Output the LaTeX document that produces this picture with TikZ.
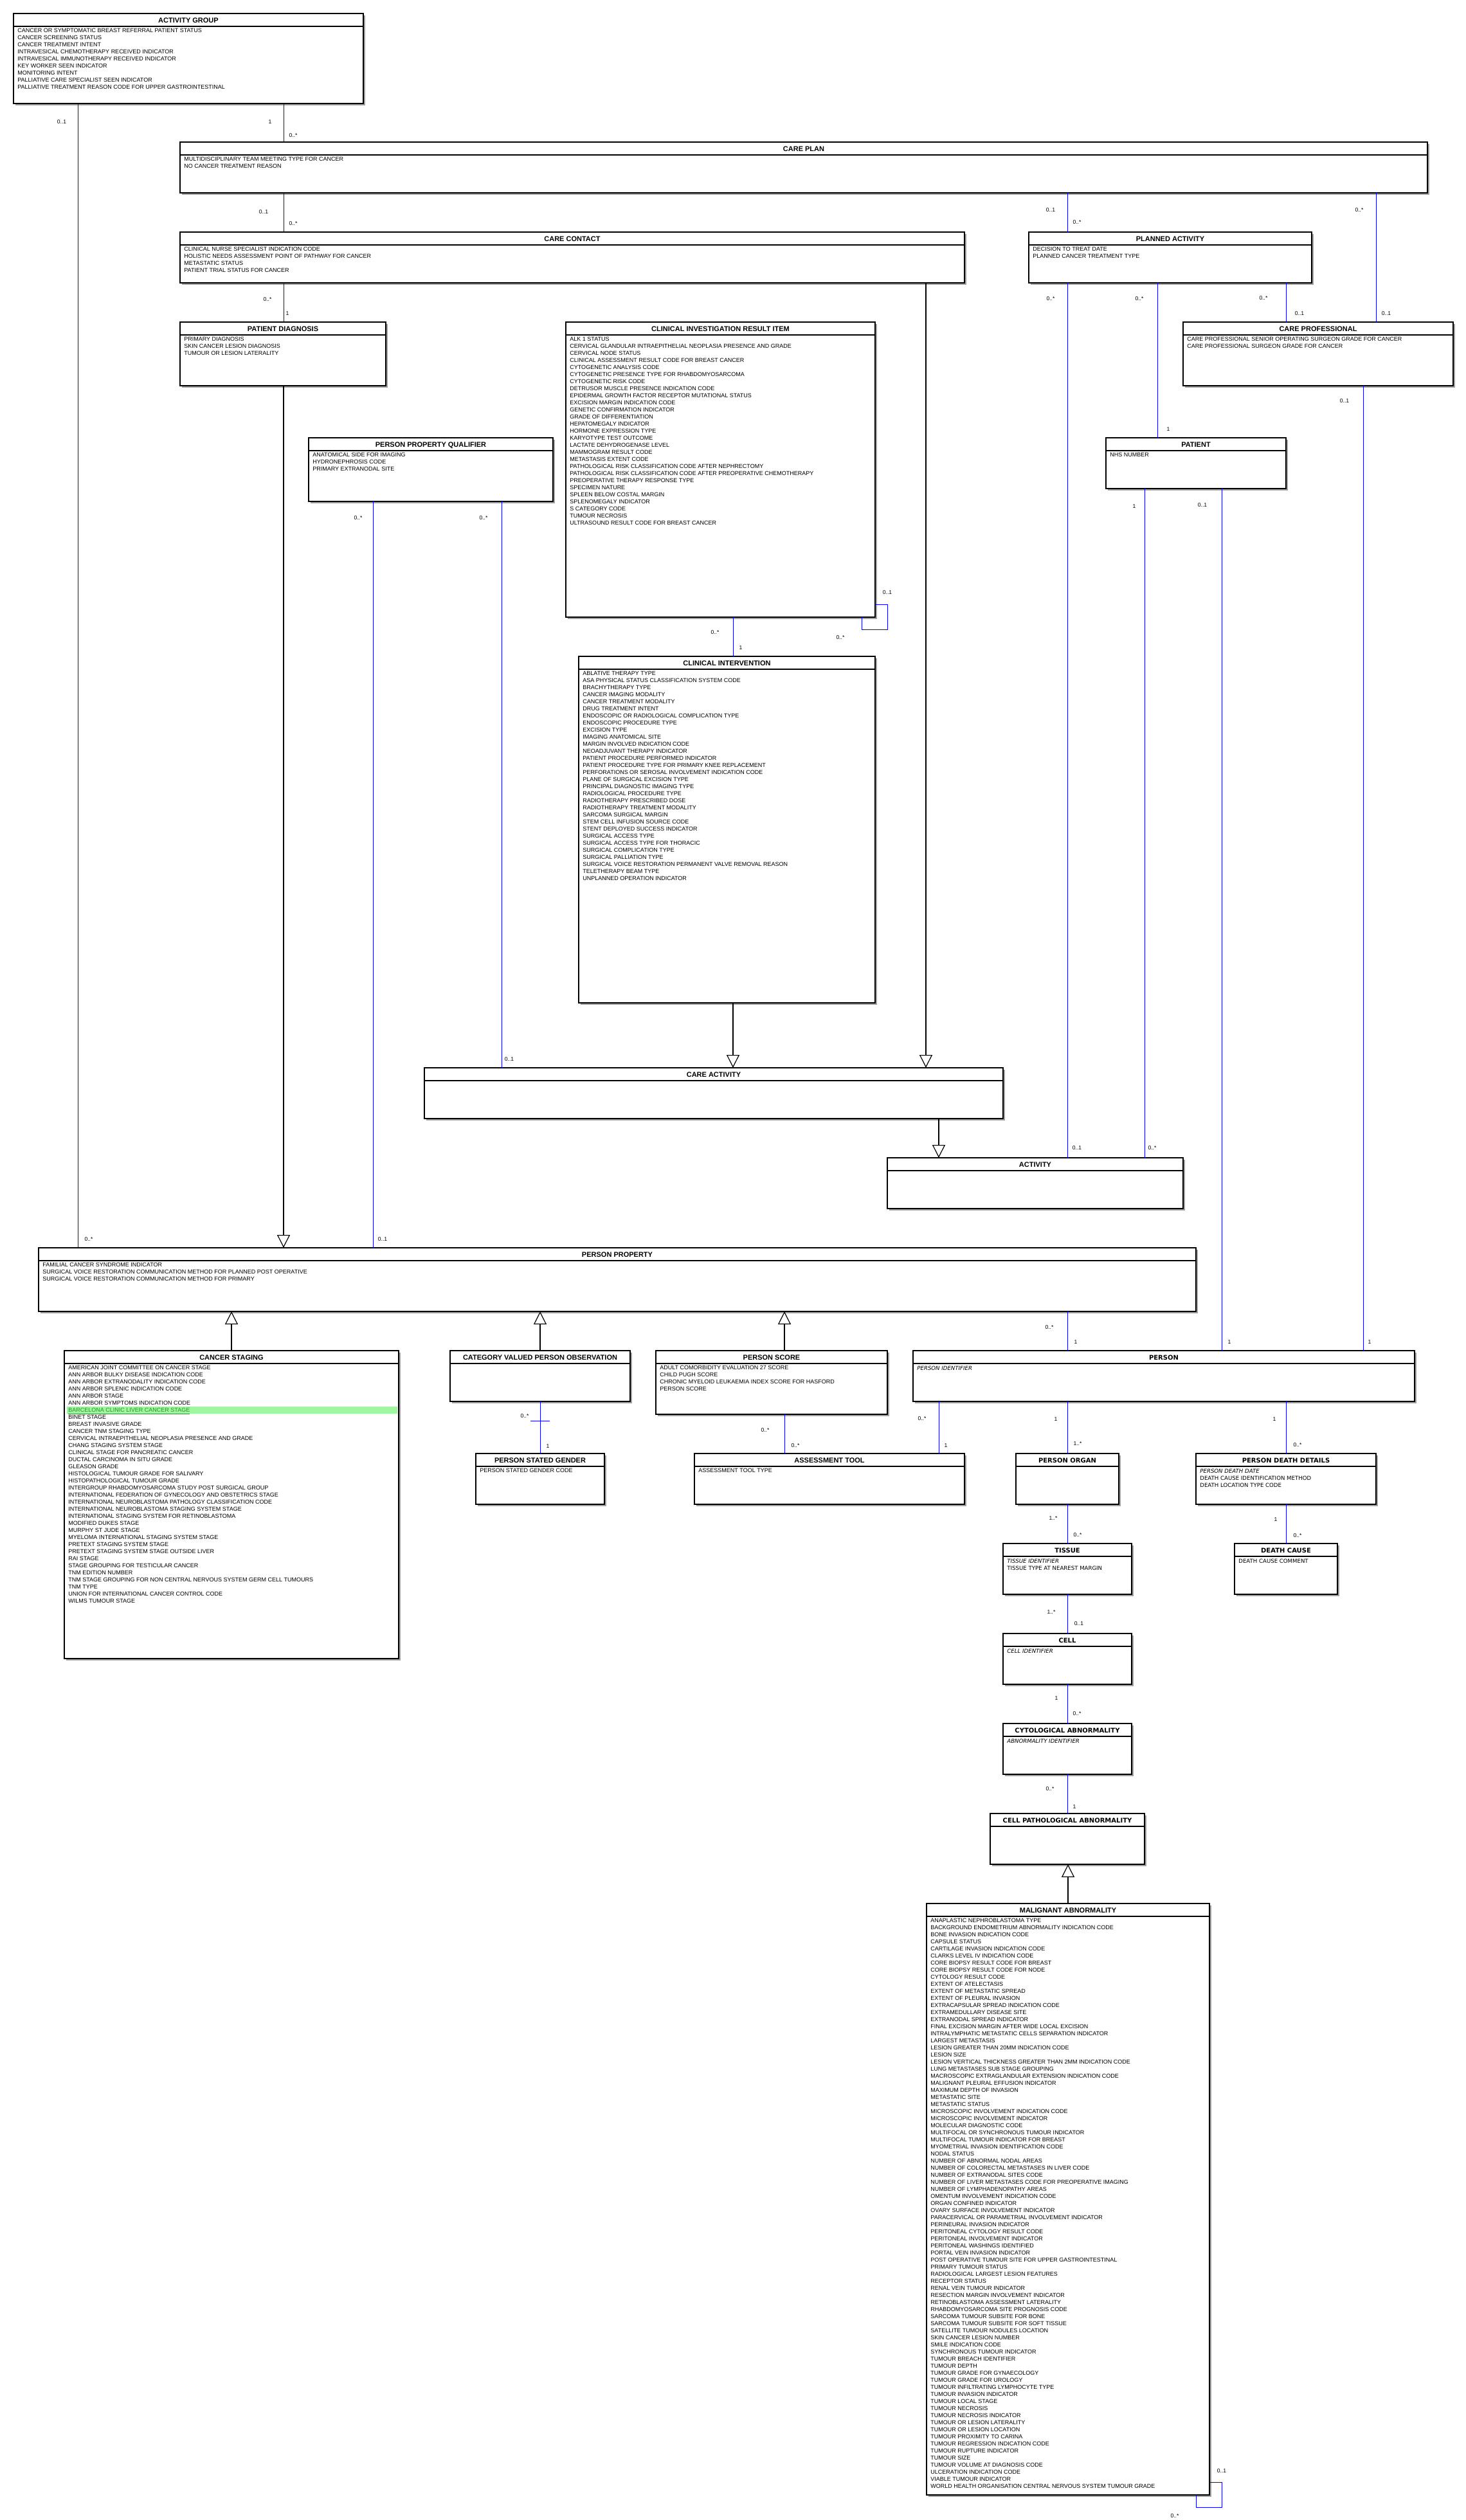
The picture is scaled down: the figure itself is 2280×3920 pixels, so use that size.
\documentclass[tikz,border=0pt]{standalone}
\usepackage{fontspec}
\setmainfont{Liberation Sans}
\newfontfamily\dejavu{DejaVu Sans}
\usetikzlibrary{arrows.meta}
\definecolor{assocblue}{RGB}{0,0,255}
\definecolor{shadowc}{RGB}{160,160,160}
\definecolor{hlbg}{RGB}{160,245,160}
\definecolor{hltext}{RGB}{40,150,40}
\tikzset{
 umlbox/.style={draw=black, fill=white, line width=0.8pt, inner sep=0pt, outer sep=0pt},
 sepline/.style={line width=0.8pt},
 titleA/.style={font=\bfseries\fontsize{5.5pt}{6.6pt}\selectfont, inner sep=0pt},
 attrA/.style={font=\fontsize{4.5pt}{5.5pt}\selectfont, align=left, inner sep=0pt},
 titleB/.style={font=\dejavu\bfseries\fontsize{5pt}{6pt}\selectfont, inner sep=0pt},
 attrB/.style={font=\dejavu\fontsize{4.3pt}{5.5pt}\selectfont, align=left, inner sep=0pt, yshift=-0.5pt},
 assoc/.style={draw=assocblue, line width=0.5pt},
 gen/.style={draw=black, line width=0.6pt, -{Triangle[open, fill=white, length=10pt, width=10pt]}},
 mult/.style={font=\fontsize{4.3pt}{5pt}\selectfont, inner sep=0pt},
}
\newcommand\umlclass[8]{%
 \fill[shadowc] (#3+3,#4+3) rectangle (#5+3,#6+3);
 \node[umlbox, minimum width={(#5-#3)*0.5pt}, minimum height={(#6-#4)*0.5pt}, anchor=north west] (#2) at (#3,#4) {};
 \draw[sepline] ([yshift=-10pt]#2.north west) -- ([yshift=-10pt]#2.north east);
 \node[title#1, anchor=base] (#2-t) at ([yshift=-7pt]#2.north) {#7};
 \node[attr#1, anchor=north west] (#2-a) at ([xshift=3pt,yshift=-10.75pt]#2.north west) {\strut#8};
}
\newcommand\vconn[4][assoc]{%
 \coordinate (vx) at (#4,0);
 \draw[#1] (#2 -| vx) -- (#3 -| vx);
}
\begin{document}
\begin{tikzpicture}[x=0.5pt, y=-0.5pt]
\fill[white] (0,0) rectangle (2280,3920);
\useasboundingbox (0,0) rectangle (2280,3920);

% ---------------- classes ----------------
\umlclass{A}{AG}{21}{21}{565}{161}{ACTIVITY GROUP}{CANCER OR SYMPTOMATIC BREAST REFERRAL PATIENT STATUS\\CANCER SCREENING STATUS\\CANCER TREATMENT INTENT\\INTRAVESICAL CHEMOTHERAPY RECEIVED INDICATOR\\INTRAVESICAL IMMUNOTHERAPY RECEIVED INDICATOR\\KEY WORKER SEEN INDICATOR\\MONITORING INTENT\\PALLIATIVE CARE SPECIALIST SEEN INDICATOR\\PALLIATIVE TREATMENT REASON CODE FOR UPPER GASTROINTESTINAL}

\umlclass{A}{CP}{280}{221}{2220}{300}{CARE PLAN}{MULTIDISCIPLINARY TEAM MEETING TYPE FOR CANCER\\NO CANCER TREATMENT REASON}

\umlclass{A}{CC}{280}{361}{1500}{440}{CARE CONTACT}{CLINICAL NURSE SPECIALIST INDICATION CODE\\HOLISTIC NEEDS ASSESSMENT POINT OF PATHWAY FOR CANCER\\METASTATIC STATUS\\PATIENT TRIAL STATUS FOR CANCER}

\umlclass{A}{PA}{1600}{361}{2040}{440}{PLANNED ACTIVITY}{DECISION TO TREAT DATE\\PLANNED CANCER TREATMENT TYPE}

\umlclass{A}{CPro}{1840}{501}{2260}{600}{CARE PROFESSIONAL}{CARE PROFESSIONAL SENIOR OPERATING SURGEON GRADE FOR CANCER\\CARE PROFESSIONAL SURGEON GRADE FOR CANCER}

\umlclass{A}{PD}{280}{501}{600}{600}{PATIENT DIAGNOSIS}{PRIMARY DIAGNOSIS\\SKIN CANCER LESION DIAGNOSIS\\TUMOUR OR LESION LATERALITY}

\umlclass{A}{CIRI}{880}{501}{1361}{960}{CLINICAL INVESTIGATION RESULT ITEM}{ALK 1 STATUS\\CERVICAL GLANDULAR INTRAEPITHELIAL NEOPLASIA PRESENCE AND GRADE\\CERVICAL NODE STATUS\\CLINICAL ASSESSMENT RESULT CODE FOR BREAST CANCER\\CYTOGENETIC ANALYSIS CODE\\CYTOGENETIC PRESENCE TYPE FOR RHABDOMYOSARCOMA\\CYTOGENETIC RISK CODE\\DETRUSOR MUSCLE PRESENCE INDICATION CODE\\EPIDERMAL GROWTH FACTOR RECEPTOR MUTATIONAL STATUS\\EXCISION MARGIN INDICATION CODE\\GENETIC CONFIRMATION INDICATOR\\GRADE OF DIFFERENTIATION\\HEPATOMEGALY INDICATOR\\HORMONE EXPRESSION TYPE\\KARYOTYPE TEST OUTCOME\\LACTATE DEHYDROGENASE LEVEL\\MAMMOGRAM RESULT CODE\\METASTASIS EXTENT CODE\\PATHOLOGICAL RISK CLASSIFICATION CODE AFTER NEPHRECTOMY\\PATHOLOGICAL RISK CLASSIFICATION CODE AFTER PREOPERATIVE CHEMOTHERAPY\\PREOPERATIVE THERAPY RESPONSE TYPE\\SPECIMEN NATURE\\SPLEEN BELOW COSTAL MARGIN\\SPLENOMEGALY INDICATOR\\S CATEGORY CODE\\TUMOUR NECROSIS\\ULTRASOUND RESULT CODE FOR BREAST CANCER}

\umlclass{A}{PAT}{1720}{681}{2000}{760}{PATIENT}{NHS NUMBER}

\umlclass{A}{PPQ}{480}{681}{860}{780}{PERSON PROPERTY QUALIFIER}{ANATOMICAL SIDE FOR IMAGING\\HYDRONEPHROSIS CODE\\PRIMARY EXTRANODAL SITE}

\umlclass{A}{CI}{900}{1021}{1361}{1560}{CLINICAL INTERVENTION}{ABLATIVE THERAPY TYPE\\ASA PHYSICAL STATUS CLASSIFICATION SYSTEM CODE\\BRACHYTHERAPY TYPE\\CANCER IMAGING MODALITY\\CANCER TREATMENT MODALITY\\DRUG TREATMENT INTENT\\ENDOSCOPIC OR RADIOLOGICAL COMPLICATION TYPE\\ENDOSCOPIC PROCEDURE TYPE\\EXCISION TYPE\\IMAGING ANATOMICAL SITE\\MARGIN INVOLVED INDICATION CODE\\NEOADJUVANT THERAPY INDICATOR\\PATIENT PROCEDURE PERFORMED INDICATOR\\PATIENT PROCEDURE TYPE FOR PRIMARY KNEE REPLACEMENT\\PERFORATIONS OR SEROSAL INVOLVEMENT INDICATION CODE\\PLANE OF SURGICAL EXCISION TYPE\\PRINCIPAL DIAGNOSTIC IMAGING TYPE\\RADIOLOGICAL PROCEDURE TYPE\\RADIOTHERAPY PRESCRIBED DOSE\\RADIOTHERAPY TREATMENT MODALITY\\SARCOMA SURGICAL MARGIN\\STEM CELL INFUSION SOURCE CODE\\STENT DEPLOYED SUCCESS INDICATOR\\SURGICAL ACCESS TYPE\\SURGICAL ACCESS TYPE FOR THORACIC\\SURGICAL COMPLICATION TYPE\\SURGICAL PALLIATION TYPE\\SURGICAL VOICE RESTORATION PERMANENT VALVE REMOVAL REASON\\TELETHERAPY BEAM TYPE\\UNPLANNED OPERATION INDICATOR}

\umlclass{A}{CA}{660}{1661}{1560}{1740}{CARE ACTIVITY}{}

\umlclass{A}{ACT}{1380}{1801}{1840}{1880}{ACTIVITY}{}

\umlclass{A}{PP}{60}{1941}{1860}{2040}{PERSON PROPERTY}{FAMILIAL CANCER SYNDROME INDICATOR\\SURGICAL VOICE RESTORATION COMMUNICATION METHOD FOR PLANNED POST OPERATIVE\\SURGICAL VOICE RESTORATION COMMUNICATION METHOD FOR PRIMARY}

\umlclass{A}{CS}{100}{2101}{620}{2580}{CANCER STAGING}{AMERICAN JOINT COMMITTEE ON CANCER STAGE\\ANN ARBOR BULKY DISEASE INDICATION CODE\\ANN ARBOR EXTRANODALITY INDICATION CODE\\ANN ARBOR SPLENIC INDICATION CODE\\ANN ARBOR STAGE\\ANN ARBOR SYMPTOMS INDICATION CODE\\\rlap{\hspace*{-1pt}\textcolor{hlbg}{\rule[-1.4pt]{257pt}{5.5pt}}}\textcolor{hltext}{\underline{BARCELONA CLINIC LIVER CANCER STAGE}}\\BINET STAGE\\BREAST INVASIVE GRADE\\CANCER TNM STAGING TYPE\\CERVICAL INTRAEPITHELIAL NEOPLASIA PRESENCE AND GRADE\\CHANG STAGING SYSTEM STAGE\\CLINICAL STAGE FOR PANCREATIC CANCER\\DUCTAL CARCINOMA IN SITU GRADE\\GLEASON GRADE\\HISTOLOGICAL TUMOUR GRADE FOR SALIVARY\\HISTOPATHOLOGICAL TUMOUR GRADE\\INTERGROUP RHABDOMYOSARCOMA STUDY POST SURGICAL GROUP\\INTERNATIONAL FEDERATION OF GYNECOLOGY AND OBSTETRICS STAGE\\INTERNATIONAL NEUROBLASTOMA PATHOLOGY CLASSIFICATION CODE\\INTERNATIONAL NEUROBLASTOMA STAGING SYSTEM STAGE\\INTERNATIONAL STAGING SYSTEM FOR RETINOBLASTOMA\\MODIFIED DUKES STAGE\\MURPHY ST JUDE STAGE\\MYELOMA INTERNATIONAL STAGING SYSTEM STAGE\\PRETEXT STAGING SYSTEM STAGE\\PRETEXT STAGING SYSTEM STAGE OUTSIDE LIVER\\RAI STAGE\\STAGE GROUPING FOR TESTICULAR CANCER\\TNM EDITION NUMBER\\TNM STAGE GROUPING FOR NON CENTRAL NERVOUS SYSTEM GERM CELL TUMOURS\\TNM TYPE\\UNION FOR INTERNATIONAL CANCER CONTROL CODE\\WILMS TUMOUR STAGE}

\umlclass{A}{CVPO}{700}{2101}{980}{2180}{CATEGORY VALUED PERSON OBSERVATION}{}

\umlclass{A}{PS}{1020}{2101}{1380}{2200}{PERSON SCORE}{ADULT COMORBIDITY EVALUATION 27 SCORE\\CHILD PUGH SCORE\\CHRONIC MYELOID LEUKAEMIA INDEX SCORE FOR HASFORD\\PERSON SCORE}

\umlclass{B}{PERSON}{1420}{2101}{2200}{2180}{PERSON}{\textit{PERSON IDENTIFIER}}

\umlclass{A}{PSG}{740}{2261}{940}{2340}{PERSON STATED GENDER}{PERSON STATED GENDER CODE}

\umlclass{A}{AT}{1080}{2261}{1500}{2340}{ASSESSMENT TOOL}{ASSESSMENT TOOL TYPE}

\umlclass{B}{PO}{1580}{2261}{1740}{2340}{PERSON ORGAN}{}

\umlclass{B}{PDD}{1860}{2261}{2140}{2340}{PERSON DEATH DETAILS}{\textit{PERSON DEATH DATE}\\DEATH CAUSE IDENTIFICATION METHOD\\DEATH LOCATION TYPE CODE}

\umlclass{B}{TIS}{1560}{2401}{1760}{2480}{TISSUE}{\textit{TISSUE IDENTIFIER}\\TISSUE TYPE AT NEAREST MARGIN}

\umlclass{B}{DC}{1920}{2401}{2080}{2480}{DEATH CAUSE}{DEATH CAUSE COMMENT}

\umlclass{B}{CELL}{1560}{2541}{1760}{2620}{CELL}{\textit{CELL IDENTIFIER}}

\umlclass{B}{CYTO}{1560}{2681}{1760}{2760}{CYTOLOGICAL ABNORMALITY}{\textit{ABNORMALITY IDENTIFIER}}

\umlclass{B}{CPA}{1540}{2821}{1780}{2900}{CELL PATHOLOGICAL ABNORMALITY}{}

\umlclass{A}{MA}{1441}{2961}{1881}{3881}{MALIGNANT ABNORMALITY}{ANAPLASTIC NEPHROBLASTOMA TYPE\\BACKGROUND ENDOMETRIUM ABNORMALITY INDICATION CODE\\BONE INVASION INDICATION CODE\\CAPSULE STATUS\\CARTILAGE INVASION INDICATION CODE\\CLARKS LEVEL IV INDICATION CODE\\CORE BIOPSY RESULT CODE FOR BREAST\\CORE BIOPSY RESULT CODE FOR NODE\\CYTOLOGY RESULT CODE\\EXTENT OF ATELECTASIS\\EXTENT OF METASTATIC SPREAD\\EXTENT OF PLEURAL INVASION\\EXTRACAPSULAR SPREAD INDICATION CODE\\EXTRAMEDULLARY DISEASE SITE\\EXTRANODAL SPREAD INDICATOR\\FINAL EXCISION MARGIN AFTER WIDE LOCAL EXCISION\\INTRALYMPHATIC METASTATIC CELLS SEPARATION INDICATOR\\LARGEST METASTASIS\\LESION GREATER THAN 20MM INDICATION CODE\\LESION SIZE\\LESION VERTICAL THICKNESS GREATER THAN 2MM INDICATION CODE\\LUNG METASTASES SUB STAGE GROUPING\\MACROSCOPIC EXTRAGLANDULAR EXTENSION INDICATION CODE\\MALIGNANT PLEURAL EFFUSION INDICATOR\\MAXIMUM DEPTH OF INVASION\\METASTATIC SITE\\METASTATIC STATUS\\MICROSCOPIC INVOLVEMENT INDICATION CODE\\MICROSCOPIC INVOLVEMENT INDICATOR\\MOLECULAR DIAGNOSTIC CODE\\MULTIFOCAL OR SYNCHRONOUS TUMOUR INDICATOR\\MULTIFOCAL TUMOUR INDICATOR FOR BREAST\\MYOMETRIAL INVASION IDENTIFICATION CODE\\NODAL STATUS\\NUMBER OF ABNORMAL NODAL AREAS\\NUMBER OF COLORECTAL METASTASES IN LIVER CODE\\NUMBER OF EXTRANODAL SITES CODE\\NUMBER OF LIVER METASTASES CODE FOR PREOPERATIVE IMAGING\\NUMBER OF LYMPHADENOPATHY AREAS\\OMENTUM INVOLVEMENT INDICATION CODE\\ORGAN CONFINED INDICATOR\\OVARY SURFACE INVOLVEMENT INDICATOR\\PARACERVICAL OR PARAMETRIAL INVOLVEMENT INDICATOR\\PERINEURAL INVASION INDICATOR\\PERITONEAL CYTOLOGY RESULT CODE\\PERITONEAL INVOLVEMENT INDICATOR\\PERITONEAL WASHINGS IDENTIFIED\\PORTAL VEIN INVASION INDICATOR\\POST OPERATIVE TUMOUR SITE FOR UPPER GASTROINTESTINAL\\PRIMARY TUMOUR STATUS\\RADIOLOGICAL LARGEST LESION FEATURES\\RECEPTOR STATUS\\RENAL VEIN TUMOUR INDICATOR\\RESECTION MARGIN INVOLVEMENT INDICATOR\\RETINOBLASTOMA ASSESSMENT LATERALITY\\RHABDOMYOSARCOMA SITE PROGNOSIS CODE\\SARCOMA TUMOUR SUBSITE FOR BONE\\SARCOMA TUMOUR SUBSITE FOR SOFT TISSUE\\SATELLITE TUMOUR NODULES LOCATION\\SKIN CANCER LESION NUMBER\\SMILE INDICATION CODE\\SYNCHRONOUS TUMOUR INDICATOR\\TUMOUR BREACH IDENTIFIER\\TUMOUR DEPTH\\TUMOUR GRADE FOR GYNAECOLOGY\\TUMOUR GRADE FOR UROLOGY\\TUMOUR INFILTRATING LYMPHOCYTE TYPE\\TUMOUR INVASION INDICATOR\\TUMOUR LOCAL STAGE\\TUMOUR NECROSIS\\TUMOUR NECROSIS INDICATOR\\TUMOUR OR LESION LATERALITY\\TUMOUR OR LESION LOCATION\\TUMOUR PROXIMITY TO CARINA\\TUMOUR REGRESSION INDICATION CODE\\TUMOUR RUPTURE INDICATOR\\TUMOUR SIZE\\TUMOUR VOLUME AT DIAGNOSIS CODE\\ULCERATION INDICATION CODE\\VIABLE TUMOUR INDICATOR\\WORLD HEALTH ORGANISATION CENTRAL NERVOUS SYSTEM TUMOUR GRADE}

% ---------------- generalizations ----------------
\vconn[gen]{CC.south}{CA.north}{1440}
\vconn[gen]{CI.south}{CA.north}{1140}
\vconn[gen]{CA.south}{ACT.north}{1460}
\vconn[gen]{PD.south}{PP.north}{441}
\vconn[gen]{CS.north}{PP.south}{360}
\vconn[gen]{CVPO.north}{PP.south}{840}
\vconn[gen]{PS.north}{PP.south}{1220}
\vconn[gen]{MA.north}{CPA.south}{1661}

% ---------------- associations ----------------
\vconn{AG.south}{PP.north}{121}
\node[mult] at (96,190) {0..1};
\node[mult] at (138,1928) {0..*};

\vconn{AG.south}{CP.north}{441}
\node[mult] at (420,190) {1};
\node[mult] at (456,211) {0..*};

\vconn{CP.south}{CC.north}{441}
\node[mult] at (410,330) {0..1};
\node[mult] at (456,348) {0..*};

\vconn{CC.south}{PD.north}{441}
\node[mult] at (416,466) {0..*};
\node[mult] at (447,488) {1};

\vconn{CP.south}{PA.north}{1660}
\node[mult] at (1634,327) {0..1};
\node[mult] at (1675,346) {0..*};

\vconn{CP.south}{CPro.north}{2140}
\node[mult] at (2114,327) {0..*};
\node[mult] at (2156,488) {0..1};

\vconn{PA.south}{ACT.north}{1660}
\node[mult] at (1634,465) {0..*};
\node[mult] at (1675,1786) {0..1};

\vconn{PA.south}{PAT.north}{1800}
\node[mult] at (1772,465) {0..*};
\node[mult] at (1817,668) {1};

\vconn{PA.south}{CPro.north}{2000}
\node[mult] at (1965,464) {0..*};
\node[mult] at (2021,488) {0..1};

\vconn{PAT.south}{ACT.north}{1780}
\node[mult] at (1764,788) {1};
\node[mult] at (1792,1786) {0..*};

\vconn{PAT.south}{PERSON.north}{1900}
\node[mult] at (1870,786) {0..1};
\node[mult] at (1912,2088) {1};

\vconn{CPro.south}{PERSON.north}{2120}
\node[mult] at (2091,624) {0..1};
\node[mult] at (2130,2088) {1};

\vconn{CIRI.south}{CI.north}{1140}
\node[mult] at (1112,984) {0..*};
\node[mult] at (1152,1008) {1};

\draw[assoc] ([yshift=10pt]CIRI.south east) -- ++(19,0) -- ++(0,39) -- ++(-40,0) -- ([xshift=-10.5pt]CIRI.south east);
\node[mult] at (1380,922) {0..1};
\node[mult] at (1307,992) {0..*};

\vconn{PPQ.south}{PP.north}{580}
\node[mult] at (557,806) {0..*};
\node[mult] at (595,1928) {0..1};

\vconn{PPQ.south}{CA.north}{780}
\node[mult] at (752,806) {0..*};
\node[mult] at (792,1648) {0..1};

\vconn{PP.south}{PERSON.north}{1660}
\node[mult] at (1632,2065) {0..*};
\node[mult] at (1673,2088) {1};

\vconn{CVPO.south}{PSG.north}{840}
\coordinate (cb) at (840,2210);
\draw[assoc] ([xshift=-7.5pt]cb) -- ([xshift=7.5pt]cb);
\node[mult] at (816,2203) {0..*};
\node[mult] at (852,2250) {1};

\vconn{PS.south}{AT.north}{1220}
\node[mult] at (1190,2225) {0..*};
\node[mult] at (1237,2249) {0..*};

\vconn{PERSON.south}{AT.north}{1460}
\node[mult] at (1434,2207) {0..*};
\node[mult] at (1471,2249) {1};

\vconn{PERSON.south}{PO.north}{1660}
\node[mult] at (1642,2208) {1};
\node[mult] at (1676,2246) {1..*};

\vconn{PERSON.south}{PDD.north}{2000}
\node[mult] at (1982,2208) {1};
\node[mult] at (2018,2248) {0..*};

\vconn{PO.south}{TIS.north}{1660}
\node[mult] at (1638,2362) {1..*};
\node[mult] at (1676,2388) {0..*};

\vconn{PDD.south}{DC.north}{2000}
\node[mult] at (1984,2364) {1};
\node[mult] at (2018,2389) {0..*};

\vconn{TIS.south}{CELL.north}{1660}
\node[mult] at (1635,2508) {1..*};
\node[mult] at (1678,2526) {0..1};

\vconn{CELL.south}{CYTO.north}{1660}
\node[mult] at (1643,2642) {1};
\node[mult] at (1675,2666) {0..*};

\vconn{CYTO.south}{CPA.north}{1660}
\node[mult] at (1633,2783) {0..*};
\node[mult] at (1671,2811) {1};

\draw[assoc] ([yshift=10pt]MA.south east) -- ++(19,0) -- ++(0,39) -- ++(-40,0) -- ([xshift=-10.5pt]MA.south east);
\node[mult] at (1900,3843) {0..1};
\node[mult] at (1827,3913) {0..*};
\end{tikzpicture}
\end{document}
